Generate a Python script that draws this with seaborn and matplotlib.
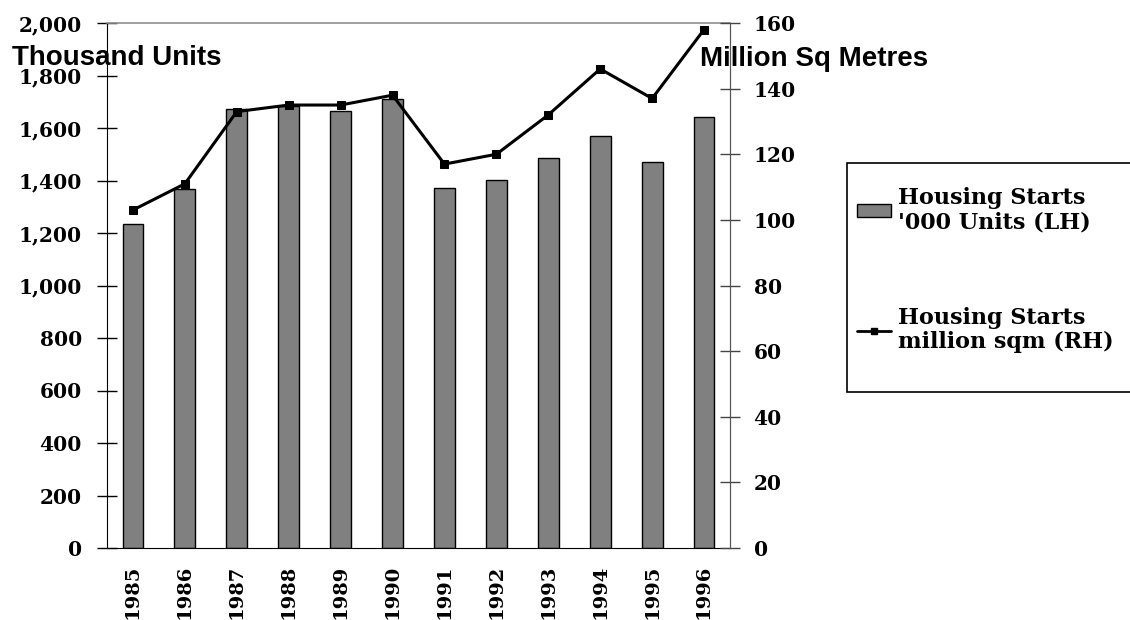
import numpy as np
import pandas as pd
import matplotlib
matplotlib.use("Agg")
import matplotlib.pyplot as plt
from matplotlib.patches import Patch, Rectangle
from matplotlib.lines import Line2D
from matplotlib.ticker import FuncFormatter
import seaborn as sns

# Housing starts by year
years = ["1985", "1986", "1987", "1988", "1989", "1990",
         "1991", "1992", "1993", "1994", "1995", "1996"]
units_thousand = [1234, 1366, 1673, 1685, 1663, 1709,
                  1370, 1402, 1487, 1571, 1471, 1643]
floor_area_msqm = [103, 111, 133, 135, 135, 138,
                   117, 120, 132, 146, 137, 158]

left_ticks = list(range(0, 2001, 200))
right_ticks = list(range(0, 161, 20))

sns.set_style("white")
plt.rcParams["font.family"] = ["DejaVu Serif"]
plt.rcParams["font.weight"] = "bold"
plt.rcParams["text.color"] = "black"
plt.rcParams["xtick.color"] = "black"
plt.rcParams["ytick.color"] = "black"
plt.rcParams["axes.labelcolor"] = "black"

SERIF = "DejaVu Serif"
SANS = "Liberation Sans"
BAR_GREY = "#808080"

df = pd.DataFrame({"year": years, "units": units_thousand, "sqm": floor_area_msqm})
df["pos"] = np.arange(len(df))

W, H = 1130, 620
fig = plt.figure(figsize=(W / 100, H / 100), dpi=100)
ax = fig.add_axes([107 / W, 72 / H, 623 / W, 525 / H])

sns.barplot(data=df, x="year", y="units", order=years, ax=ax,
            color=BAR_GREY, saturation=1, edgecolor="black",
            linewidth=1, width=0.4, zorder=2)

ax2 = ax.twinx()
sns.lineplot(data=df, x="pos", y="sqm", ax=ax2, color="black",
             linewidth=2.2, marker="s", markersize=6,
             markeredgecolor="black", legend=False, zorder=3)

n = len(years)
ax.set_xlim(-0.5, n - 0.5)
ax.set_ylim(0, 2000)
ax2.set_ylim(0, 160)
for a in (ax, ax2):
    a.set_xlabel("")
    a.set_ylabel("")

# x axis: year labels at bar centres, tick marks at category boundaries
ax.set_xticks(range(n))
ax.set_xticklabels(years, rotation=90, fontfamily=SERIF,
                   fontweight="bold", fontsize=14, color="black")
ax.tick_params(axis="x", which="major", length=0, pad=12)
ax.set_xticks(np.arange(-0.5, n, 1), minor=True)
ax.tick_params(axis="x", which="minor", direction="inout", length=12,
               width=1, color="#555555")

# left axis
ax.set_yticks(left_ticks)
ax.yaxis.set_major_formatter(FuncFormatter(lambda v, p: f"{int(v):,}"))
ax.tick_params(axis="y", direction="inout", length=14, width=1,
               color="black", labelcolor="black", pad=11, labelsize=14.5)
for lab in ax.get_yticklabels():
    lab.set_fontfamily(SERIF)
    lab.set_fontweight("bold")

# right axis
ax2.set_yticks(right_ticks)
ax2.tick_params(axis="y", direction="inout", length=14, width=1,
                color="#444444", labelcolor="black", pad=10, labelsize=14.5)
for lab in ax2.get_yticklabels():
    lab.set_fontfamily(SERIF)
    lab.set_fontweight("bold")

# spines
for a in (ax, ax2):
    a.spines["top"].set_color("#909090")
    a.spines["top"].set_linewidth(1.2)
    a.spines["left"].set_color("black")
    a.spines["right"].set_color("#555555")
    a.spines["bottom"].set_color("black")
    for s in a.spines.values():
        s.set_visible(True)
ax2.spines["left"].set_visible(False)
ax2.spines["bottom"].set_visible(False)
ax2.spines["top"].set_visible(False)

# axis titles
fig.text(12 / W, 1 - 58 / H, "Thousand Units", fontfamily=SANS,
         fontweight="bold", fontsize=20, ha="left", va="center", color="black")
fig.text(700 / W, 1 - 59 / H, "Million Sq Metres", fontfamily=SANS,
         fontweight="bold", fontsize=20, ha="left", va="center", color="black")

# legend frame and entries
fig.patches.append(Rectangle((847 / W, 1 - 392 / H), (1140 - 847) / W,
                             (392 - 163) / H, transform=fig.transFigure,
                             facecolor="white", edgecolor="black",
                             linewidth=1.2, zorder=1))
handles = [
    Patch(facecolor=BAR_GREY, edgecolor="black", linewidth=1),
    Line2D([], [], color="black", linewidth=2, marker="s", markersize=5),
]
labels = ["Housing Starts\n'000 Units (LH)", "Housing Starts\nmillion sqm (RH)"]
leg = fig.legend(handles, labels, loc="center left",
                 bbox_to_anchor=(857 / W, 1 - 270 / H),
                 bbox_transform=fig.transFigure,
                 prop={"family": SERIF, "weight": "bold", "size": 16},
                 frameon=False, labelspacing=3.3, handlelength=1.55,
                 handleheight=0.55, handletextpad=0.3, borderpad=0,
                 borderaxespad=0)
for t in leg.get_texts():
    t.set_linespacing(1.15)
    t.set_color("black")

fig.savefig("out.png", dpi=100)
